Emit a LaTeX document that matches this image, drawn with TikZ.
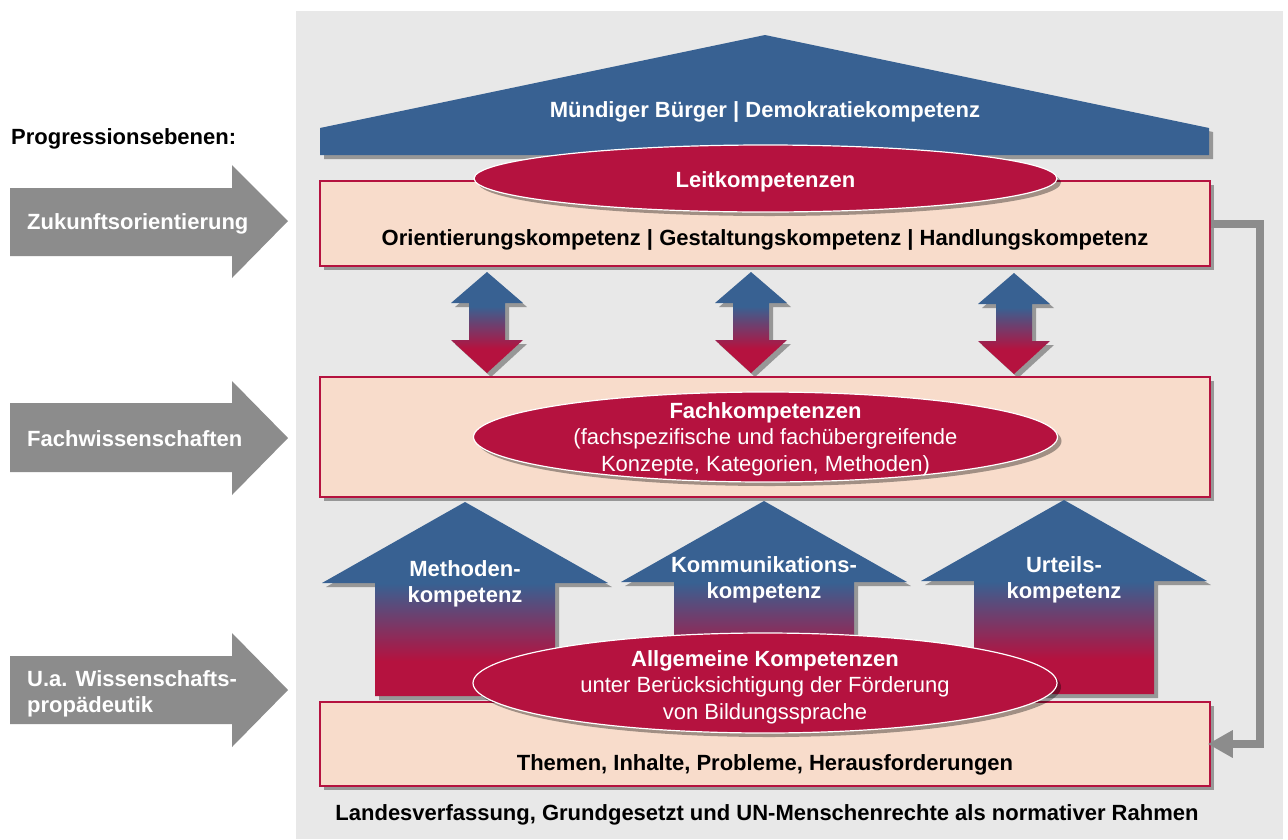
\documentclass[tikz,border=0pt]{standalone}
\usepackage{fontspec}
\setmainfont{Liberation Sans}
\usetikzlibrary{shapes.geometric,shadows,arrows.meta}
\definecolor{roofblue}{RGB}{56,97,146}
\definecolor{crim}{RGB}{181,18,63}
\definecolor{peach}{RGB}{248,220,203}
\definecolor{bggray}{RGB}{232,232,232}
\definecolor{arrgray}{RGB}{140,140,140}
\pgfdeclareverticalshading{uparrowshade}{100bp}{color(0bp)=(crim); color(34bp)=(crim); color(54bp)=(roofblue); color(100bp)=(roofblue)}
\pgfdeclareverticalshading{dblshade}{100bp}{color(0bp)=(crim); color(37bp)=(crim); color(58bp)=(roofblue); color(100bp)=(roofblue)}
\begin{document}
\begin{tikzpicture}[x=1pt,y=-1pt,
  font=\fontsize{22}{26.5}\selectfont\bfseries,
  shad/.style={drop shadow={shadow xshift=4pt,shadow yshift=-4pt,opacity=0.35,fill=black}},
  layerbox/.style={draw=crim, line width=1.5pt, fill=peach, minimum width=890pt, inner sep=0pt, shad},
  kell/.style={ellipse, fill=crim, draw=white, line width=1.2pt, inner sep=0pt, shad},
  kelltxt/.style={text=white, align=center, inner sep=0pt},
  lefttxt/.style={text=white, align=left, anchor=west, inner sep=0pt},
  progarrow/.style={fill=arrgray},
  bigup/.pic={\shade[shading=uparrowshade, shad] (0,0) -- (143,81) -- (90,81) -- (90,194) -- (-90,194) -- (-90,81) -- (-143,81) -- cycle;},
  dblarr/.pic={\shade[shading=dblshade, shad] (0,0) -- (36,31) -- (18,31) -- (18,68) -- (36,68) -- (0,101) -- (-36,68) -- (-18,68) -- (-18,31) -- (-36,31) -- cycle;},
  feedback/.style={draw=arrgray, line width=8pt, line join=miter, -{Triangle[length=25pt,width=26pt]}, shorten >=-3pt}
]
\useasboundingbox (0,0) rectangle (1288,839);
\fill[white] (0,0) rectangle (1288,839);
\fill[bggray] (296,11) rectangle (1283,839);

% left progression arrows
\node[anchor=west, inner sep=0pt] (prog) at (11,139) {Progressionsebenen:};
\fill[progarrow] (10,188) -- (232,188) -- (232,165) -- (288,221) -- (232,278) -- (232,256) -- (10,256) -- cycle;
\node[lefttxt] (zuk) at (27,224) {Zukunftsorientierung};
\fill[progarrow] (10,403) -- (232,403) -- (232,381) -- (288,438) -- (232,495) -- (232,472) -- (10,472) -- cycle;
\node[lefttxt] (fachw) at (27,439) {Fachwissenschaften};
\fill[progarrow] (10,656) -- (232,656) -- (232,633) -- (288,690) -- (232,747) -- (232,724) -- (10,724) -- cycle;
\node[lefttxt] (wiss) at (27,694) {U.a. Wissenschafts-\\propädeutik};

% roof
\fill[roofblue, shad] (320,155) -- (320,128) -- (765,35) -- (1209,128) -- (1209,155) -- cycle;
\node[text=white] (roof) at (765,112) {Mündiger Bürger | Demokratiekompetenz};

% top layer
\node[layerbox, minimum height=85pt] (topbox) at (765,223.5) {};
\node (toptxt) at (765,240) {Orientierungskompetenz | Gestaltungskompetenz | Handlungskompetenz};
\node[kell, minimum width=583pt, minimum height=67pt] (leit) at (765.5,178.5) {};
\node[kelltxt] (leittxt) at (765.5,181.5) {Leitkompetenzen};

% double arrows
\pic at (487,272) {dblarr};
\pic at (751,272) {dblarr};
\pic at (1014,273) {dblarr};

% middle layer
\node[layerbox, minimum height=120pt] (midbox) at (765,437) {};
\node[kell, minimum width=584pt, minimum height=90pt] (fach) at (765.5,437) {};
\node[kelltxt] (fachtxt) at (765.5,439) {Fachkompetenzen\\{\mdseries (fachspezifische und fachübergreifende}\\{\mdseries Konzepte, Kategorien, Methoden)}};

% big up arrows
\pic at (465,502) {bigup};
\pic at (764,501) {bigup};
\pic at (1064,500) {bigup};
\node[text=white, align=center] (meth) at (465,584) {Methoden-\\kompetenz};
\node[text=white, align=center] (komm) at (764,580) {Kommunikations-\\kompetenz};
\node[text=white, align=center] (urt) at (1064,580) {Urteils-\\kompetenz};

% bottom layer
\node[layerbox, minimum height=84pt] (botbox) at (765,744) {};
\node (bottxt) at (765,765) {Themen, Inhalte, Probleme, Herausforderungen};
\node[kell, minimum width=584pt, minimum height=100pt] (allg) at (765,683) {};
\node[kelltxt] (allgtxt) at (765,687) {Allgemeine Kompetenzen\\{\mdseries unter Berücksichtigung der Förderung}\\{\mdseries von Bildungssprache}};

% feedback arrow
\draw[feedback] (topbox.east) -- ++(49,0) |- (botbox.east);

% frame text
\node (frame) at (767,815) {Landesverfassung, Grundgesetzt und UN-Menschenrechte als normativer Rahmen};
\end{tikzpicture}
\end{document}
